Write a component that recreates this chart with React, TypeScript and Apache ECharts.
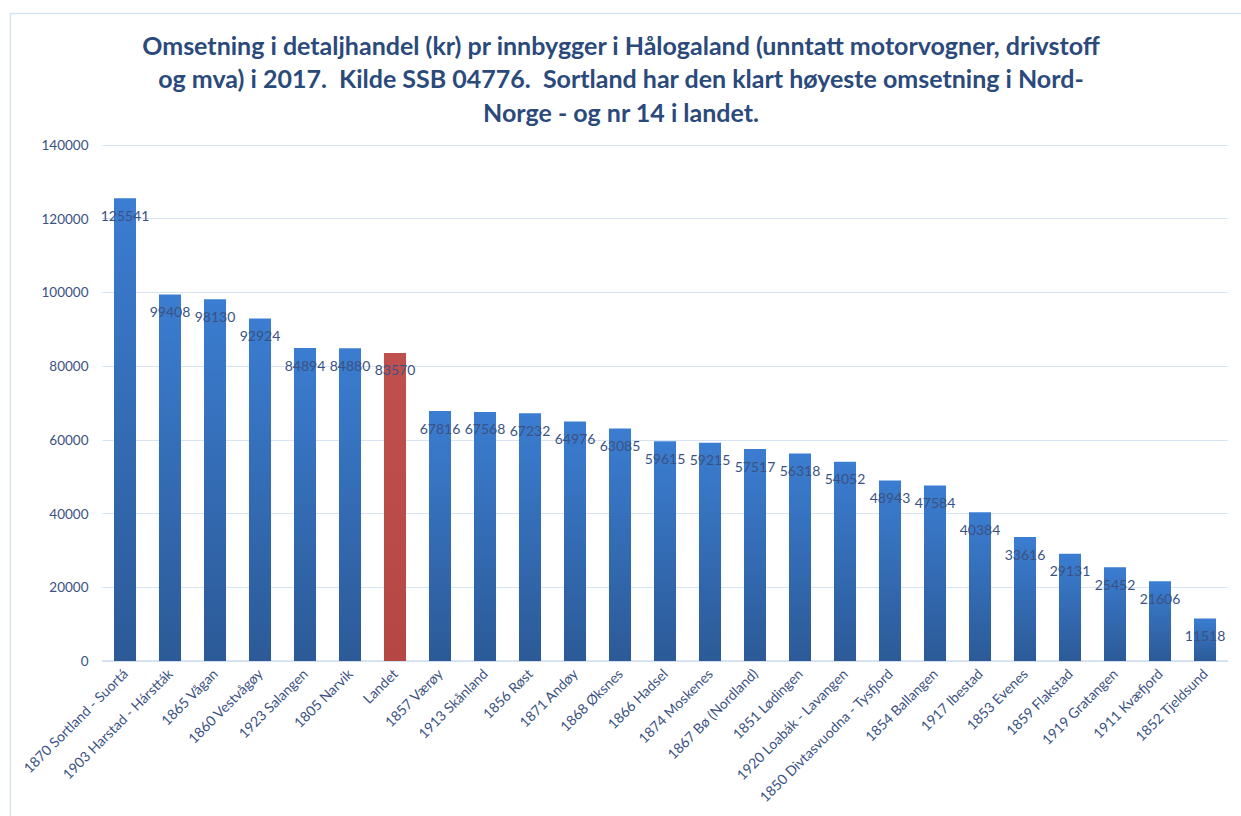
import React, { useEffect, useRef } from "react";
import * as echarts from "echarts";

const categories = [
  "1870 Sortland - Suortá",
  "1903 Harstad - Hárstták",
  "1865 Vågan",
  "1860 Vestvågøy",
  "1923 Salangen",
  "1805 Narvik",
  "Landet",
  "1857 Værøy",
  "1913 Skånland",
  "1856 Røst",
  "1871 Andøy",
  "1868 Øksnes",
  "1866 Hadsel",
  "1874 Moskenes",
  "1867 Bø (Nordland)",
  "1851 Lødingen",
  "1920 Loabák - Lavangen",
  "1850 Divtasvuodna - Tysfjord",
  "1854 Ballangen",
  "1917 Ibestad",
  "1853 Evenes",
  "1859 Flakstad",
  "1919 Gratangen",
  "1911 Kvæfjord",
  "1852 Tjeldsund",
];

const values = [
  125541, 99408, 98130, 92924, 84894, 84880, 83570, 67816, 67568, 67232, 64976,
  63085, 59615, 59215, 57517, 56318, 54052, 48943, 47584, 40384, 33616, 29131,
  25452, 21606, 11518,
];

const highlighted = ["Landet"];

const titleText =
  "Omsetning i detaljhandel (kr) pr innbygger i Hålogaland (unntatt motorvogner, drivstoff\nog mva) i 2017.  Kilde SSB 04776.  Sortland har den klart høyeste omsetning i Nord-\nNorge - og nr 14 i landet.";

const yTicks = [0, 20000, 40000, 60000, 80000, 100000, 120000, 140000];

export default function App() {
  const ref = useRef<HTMLDivElement>(null);
  useEffect(() => {
    if (!ref.current) return;
    const chart = echarts.init(ref.current, undefined, { renderer: "svg" });
    const blue = new echarts.graphic.LinearGradient(0, 0, 0, 1, [
      { offset: 0, color: "#3B7DD1" },
      { offset: 1, color: "#2C5A97" },
    ]);
    const red = new echarts.graphic.LinearGradient(0, 0, 0, 1, [
      { offset: 0, color: "#C0504D" },
      { offset: 1, color: "#B44744" },
    ]);
    const textColor = "#3A5283";
    chart.setOption({
      animation: false,
      backgroundColor: "#ffffff",
      graphic: [
        {
          type: "rect",
          shape: { x: 10.5, y: 13.5, width: 1300, height: 900 },
          style: { fill: "none", stroke: "#D6E3F3", lineWidth: 1.5 },
          silent: true,
        },
        {
          type: "text",
          x: 621,
          y: 28,
          silent: true,
          style: {
            text: titleText,
            textAlign: "center",
            textVerticalAlign: "top",
            fontFamily: "Lato",
            fontWeight: "bold",
            fontSize: 25,
            lineHeight: 33.5,
            fill: "#2B4A7C",
          },
        },
      ],
      grid: { left: 102.5, right: 13.5, top: 145, bottom: 155, containLabel: false },
      xAxis: {
        type: "category",
        data: categories,
        axisLine: { show: true, lineStyle: { color: "#D0DEF0", width: 1.5 } },
        axisTick: { show: false },
        axisLabel: {
          rotate: 45,
          interval: 0,
          margin: 10,
          fontFamily: "Lato",
          fontSize: 14,
          color: textColor,
        },
      },
      yAxis: {
        type: "value",
        min: 0,
        max: 140000,
        interval: 20000,
        axisLine: { show: false },
        axisTick: { show: false },
        splitLine: { lineStyle: { color: "#D6E3F3", width: 1.2 } },
        axisLabel: {
          margin: 14,
          fontFamily: "Lato",
          fontSize: 13.5,
          color: textColor,
          formatter: (v: number) => (yTicks.includes(v) ? String(v) : ""),
        },
      },
      series: [
        {
          type: "bar",
          barWidth: "49%",
          data: values.map((v, i) => ({
            value: v,
            itemStyle: { color: highlighted.includes(categories[i]) ? red : blue },
          })),
          label: {
            show: true,
            position: "insideTop",
            distance: 10,
            fontFamily: "Lato",
            fontSize: 14,
            color: "#3A5283",
          },
        },
      ],
    });
    return () => chart.dispose();
  }, []);
  return (
    <div
      ref={ref}
      style={{ position: "absolute", left: 0, top: 0, width: 1241, height: 816 }}
    />
  );
}
